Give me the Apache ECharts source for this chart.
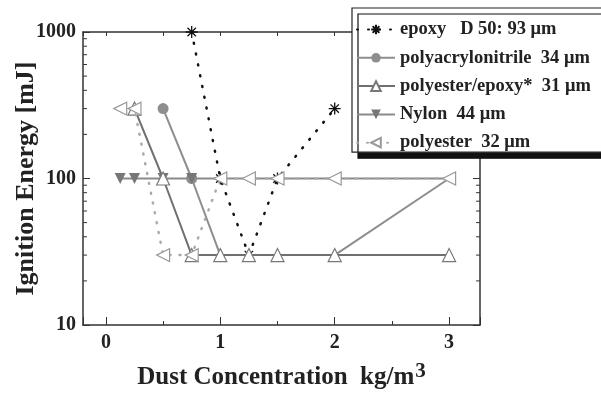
<!DOCTYPE html>
<html>
<head>
<meta charset="utf-8">
<script src="https://cdn.jsdelivr.net/npm/echarts@6/dist/echarts.min.js"></script>
<style>
  html, body { margin: 0; padding: 0; background: #fff; }
  #chart { width: 601px; height: 396px; }
</style>
</head>
<body>
<div id="chart"></div>
<script>
// axis ranges (kg/m3, mJ)
var X_MIN = -0.2, X_MAX = 3.27;
var Y_MIN = 10, Y_MAX = 1000;
var yMinorTicks = [20, 30, 40, 50, 60, 70, 80, 90, 200, 300, 400, 500, 600, 700, 800, 900];

// series data: concentration / ignition energy
var epoxyX = [0.75, 1, 1.25, 1.5, 2];
var epoxyY = [1000, 100, 30, 100, 300];

var panX = [0.5, 0.75, 1, 2, 3];
var panY = [300, 100, 30, 30, 100];
var panMarked = 2; // only the first points carry a visible circle

var pesEpX = [0.25, 0.5, 0.75, 1, 1.25, 1.5, 2, 3];
var pesEpY = [300, 100, 30, 30, 30, 30, 30, 30];

var nylonX = [0.125, 0.25, 0.5, 0.75, 1, 1.25, 1.5, 2, 3];
var nylonY = [100, 100, 100, 100, 100, 100, 100, 100, 100];
var nylonMarked = 4;

var pesX = [0.125, 0.25, 0.5, 0.75, 1, 1.25, 1.5, 2, 3];
var pesY = [300, 300, 30, 30, 100, 100, 100, 100, 100];

var names = ['epoxy   D 50: 93 μm', 'polyacrylonitrile  34 μm', 'polyester/epoxy*  31 μm', 'Nylon  44 μm', 'polyester  32 μm'];

function pairs(xs, ys, marked) {
    return xs.map(function (x, i) {
        if (marked != null && i >= marked) return { value: [x, ys[i]], symbol: 'none' };
        return [x, ys[i]];
    });
}

var FONT = 'Liberation Serif';
var asterisk = 'path://M5,0L5,10M0,5L10,5M1.5,1.5L8.5,8.5M1.5,8.5L8.5,1.5';

var chart = echarts.init(document.getElementById('chart'));

var hidden = { show: false };
var frameLine = { onZero: false, lineStyle: { color: '#333', width: 1.5 } };
chart.setOption({
    animation: false,
    backgroundColor: '#fff',
    grid: { left: 83, top: 32, width: 397, height: 293, outerBoundsMode: 'none', containLabel: false },
    legend: {
        orient: 'vertical',
        left: 352, top: 8,
        data: names,
        itemWidth: 38, itemHeight: 12, itemGap: 9.3,
        padding: [12, 60, 0, 4],
        backgroundColor: '#fff',
        borderColor: '#222', borderWidth: 1.2,
        shadowColor: '#111', shadowBlur: 0, shadowOffsetX: 6, shadowOffsetY: 6,
        textStyle: { fontFamily: FONT, fontWeight: 'bold', fontSize: 18.5, color: '#222' }
    },
    xAxis: [{
        type: 'value', min: X_MIN, max: X_MAX, minInterval: 0.5, maxInterval: 0.5,
        position: 'bottom',
        axisLine: frameLine,
        axisTick: { inside: true, length: 4, lineStyle: { color: '#333' } },
        axisLabel: {
            fontFamily: FONT, fontWeight: 'bold', fontSize: 20, color: '#222', margin: 8,
            formatter: function (v) { return Number.isInteger(v) ? String(v) : ''; }
        },
        splitLine: hidden,
        name: '{t|Dust Concentration  kg/m}{s|3}',
        nameLocation: 'middle', nameGap: 36,
        nameTextStyle: {
            rich: {
                t: { fontFamily: FONT, fontWeight: 'bold', fontSize: 25, color: '#222' },
                s: { fontFamily: FONT, fontWeight: 'bold', fontSize: 21, color: '#222', verticalAlign: 'top', padding: [0, 0, 13, 1] }
            }
        }
    }, {
        type: 'value', min: X_MIN, max: X_MAX, minInterval: 1, maxInterval: 1,
        position: 'bottom',
        axisLine: { show: false, onZero: false },
        axisTick: { inside: true, length: 8, lineStyle: { color: '#333' } },
        axisLabel: hidden, splitLine: hidden
    }, {
        type: 'value', min: X_MIN, max: X_MAX, minInterval: 0.5, maxInterval: 0.5,
        position: 'top',
        axisLine: frameLine,
        axisTick: { inside: true, length: 4, lineStyle: { color: '#333' } },
        axisLabel: hidden, splitLine: hidden
    }],
    yAxis: [{
        type: 'log', min: Y_MIN, max: Y_MAX, logBase: 10,
        position: 'left',
        axisLine: frameLine,
        axisTick: { inside: true, length: 7, lineStyle: { color: '#333' } },
        axisLabel: {
            fontFamily: FONT, fontWeight: 'bold', fontSize: 20, color: '#222', margin: 7,
            formatter: function (v) { return String(Math.round(v)); }
        },
        splitLine: hidden,
        name: 'Ignition Energy [mJ]',
        nameLocation: 'middle', nameGap: 44, nameMoveOverlap: false,
        nameTextStyle: { fontFamily: FONT, fontWeight: 'bold', fontSize: 26, color: '#222' }
    }, {
        type: 'log', min: Y_MIN, max: Y_MAX, logBase: 10,
        position: 'right',
        axisLine: frameLine,
        axisTick: { inside: true, length: 7, lineStyle: { color: '#333' } },
        axisLabel: hidden, splitLine: hidden
    }],
    series: [
        {
            // log minor ticks on left and right frame
            type: 'custom', silent: true, z: 1,
            data: yMinorTicks.map(function (v) { return [X_MIN, v]; }),
            renderItem: function (params, api) {
                var l = api.coord([X_MIN, api.value(1)]);
                var r = api.coord([X_MAX, api.value(1)]);
                var st = { stroke: '#333', lineWidth: 1 };
                return {
                    type: 'group', children: [
                        { type: 'line', shape: { x1: l[0], y1: l[1], x2: l[0] + 4, y2: l[1] }, style: st },
                        { type: 'line', shape: { x1: r[0], y1: r[1], x2: r[0] - 4, y2: r[1] }, style: st }
                    ]
                };
            }
        },
        {
            name: names[0], type: 'line', z: 3,
            data: pairs(epoxyX, epoxyY),
            symbol: asterisk, symbolSize: 12,
            lineStyle: { color: '#111', width: 2.5, type: [1, 10], cap: 'round' },
            itemStyle: { color: '#111', borderColor: '#111', borderWidth: 1.3 }
        },
        {
            name: names[1], type: 'line', z: 4,
            data: pairs(panX, panY, panMarked),
            symbol: 'circle', symbolSize: 11,
            lineStyle: { color: '#8e8e8e', width: 2 },
            itemStyle: { color: '#8e8e8e' }
        },
        {
            name: names[3], type: 'line', z: 4,
            data: pairs(nylonX, nylonY, nylonMarked),
            symbol: 'triangle', symbolRotate: 180, symbolSize: 11,
            lineStyle: { color: '#8a8a8a', width: 2 },
            itemStyle: { color: '#777' }
        },
        {
            name: names[2], type: 'line', z: 5,
            data: pairs(pesEpX, pesEpY),
            symbol: 'triangle', symbolSize: 13,
            lineStyle: { color: '#707070', width: 2 },
            itemStyle: { color: '#fff', borderColor: '#777', borderWidth: 1.2 }
        },
        {
            name: names[4], type: 'line', z: 6,
            data: pairs(pesX, pesY),
            symbol: 'triangle', symbolRotate: 90, symbolSize: 13,
            lineStyle: { color: '#aaa', width: 2.5, type: [1, 9], cap: 'round' },
            itemStyle: { color: '#fff', borderColor: '#999', borderWidth: 1.2 }
        }
    ]
});
</script>
</body>
</html>
